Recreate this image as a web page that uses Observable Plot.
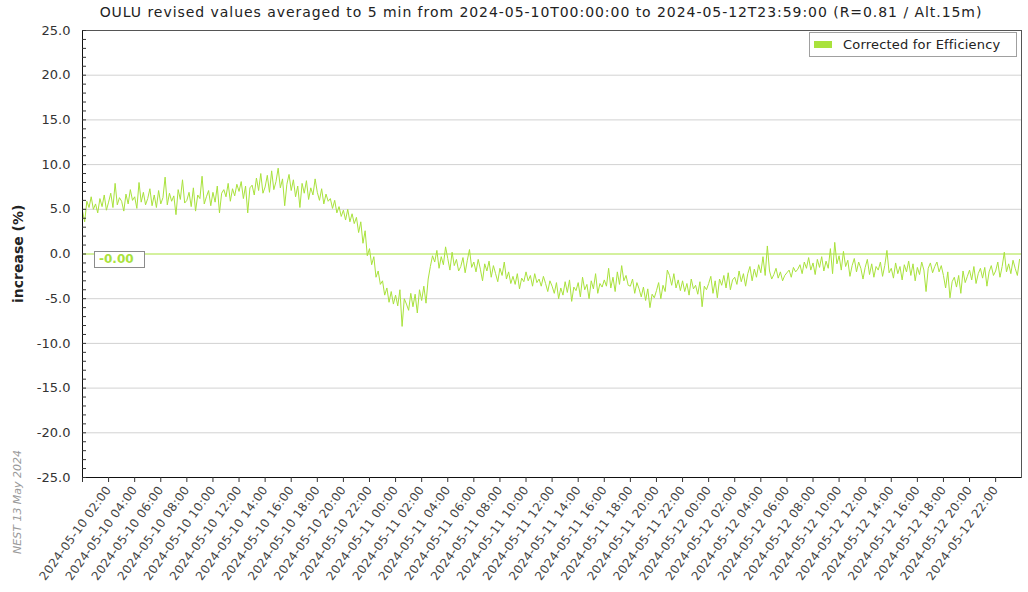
<!DOCTYPE html>
<html>
<head>
<meta charset="utf-8">
<script src="https://cdn.jsdelivr.net/npm/d3@7"></script>
<script src="https://cdn.jsdelivr.net/npm/@observablehq/plot@0.6"></script>
<style>
  body { margin: 0; background: #fff; font-family: "DejaVu Sans", sans-serif; }
  #wrap { position: relative; width: 1028px; height: 592px; overflow: hidden; }
  #title { position: absolute; left: 0; top: 4px; width: 1082px; text-align: center; font-size: 14px; letter-spacing: 0.95px; color: #222; white-space: nowrap; }
  #legend { position: absolute; left: 809px; top: 32px; width: 206px; height: 23px; border: 1px solid #a0a0a0; background: #fff; font-size: 13px; letter-spacing: 0.2px; color: #222; }
  #legend .sw { position: absolute; left: 4px; top: 8px; width: 18px; height: 7px; }
  #legend .lt { position: absolute; left: 33px; top: 4px; white-space: nowrap; }
  #ylab { position: absolute; font-size: 14px; font-weight: bold; color: #222; transform: rotate(-90deg); transform-origin: left top; white-space: nowrap; }
  #nest { position: absolute; font-size: 11px; font-style: italic; color: #999; transform: rotate(-90deg); transform-origin: left top; white-space: nowrap; }
  #zbox { position: absolute; border: 1px solid #8c8c8c; background: #fff; font-size: 12px; font-weight: bold; padding: 0 10px 0 4px; height: 15px; line-height: 15px; }
  svg g[aria-label="x-axis tick label"] text { letter-spacing: 0.3px; }
</style>
</head>
<body>
<div id="wrap">
  <div id="title"></div>
  <div id="legend"><span class="sw"></span><span class="lt"></span></div>
  <div id="ylab"></div>
  <div id="nest"></div>
  <div id="zbox"></div>
</div>
<script>
// ---------- data (10-minute samples) ----------
const titleText = "OULU revised values averaged to 5 min from 2024-05-10T00:00:00 to 2024-05-12T23:59:00 (R=0.81 / Alt.15m)";
const seriesName = "Corrected for Efficiency";
const yAxisLabel = "increase (%)";
const footNote = "NEST  13 May 2024";
const meanLabel = "-0.00";
const startTime = "2024-05-10T00:00:00Z";
const endTime = "2024-05-12T23:59:00Z";
const stepMinutes = 10;

const may10 = [
  4.8, 3.6, 5.9, 5.2, 6.4, 5.0,
  5.6, 4.6, 6.2, 5.3, 6.6, 4.9,
  5.8, 6.8, 5.2, 7.9, 5.5, 6.3,
  5.9, 4.8, 6.7, 5.6, 7.2, 6.0,
  6.4, 5.1, 8.0, 5.8, 6.9, 5.5,
  6.2, 7.3, 5.4, 6.6, 5.2, 7.1,
  5.6, 6.3, 8.6, 5.5, 6.8, 5.9,
  6.5, 4.4, 7.2, 6.1, 8.3, 5.7,
  6.0, 6.9, 5.3, 7.4, 4.8, 6.6,
  6.2, 8.7, 5.6, 6.4, 7.1, 5.4,
  6.9, 5.8, 7.6, 4.6, 6.8, 7.2,
  6.4, 7.9, 5.9, 7.3, 6.5, 7.8,
  7.0, 8.1, 6.2, 7.6, 4.6, 7.4,
  7.7, 6.6, 8.5, 7.1, 9.0, 6.8,
  7.5, 8.8, 6.9, 9.3, 7.2, 8.1,
  9.6, 7.4, 8.4, 5.4, 7.8, 8.9,
  7.1, 8.3, 6.4, 7.6, 5.2, 7.9,
  6.8, 8.2, 6.1, 7.4, 6.6, 8.4,
  6.9, 6.0, 7.3, 5.6, 6.7, 5.9,
  6.2, 5.1, 6.0, 4.6, 5.3, 4.2,
  4.9, 3.8, 5.0, 3.6, 4.5, 3.4,
  4.1, 2.4, 3.6, 1.2, 2.6, -0.2,
  0.6, -1.2, -0.3, -2.6, -1.9, -3.4,
  -3.0, -4.6, -3.8, -5.4, -4.2, -5.6
];
const may11 = [
  -4.6, -5.8, -4.0, -8.1, -5.0, -5.6,
  -6.3, -4.4, -5.9, -4.5, -6.6, -4.0,
  -5.2, -3.6, -5.5, -2.8, -1.4, -0.2,
  -0.9, 0.4, -1.6, -0.3, -1.2, 0.8,
  -0.5, -1.8, 0.2, -1.3, -0.6, -1.9,
  -1.4, -0.4, -2.1, -0.7, 0.5, -1.5,
  -0.9, -2.0, -0.6, -1.7, -3.0, -1.1,
  -1.9, -0.8, -2.6, -1.3, -2.2, -3.1,
  -1.6, -2.4, -0.9, -2.8, -2.0, -3.3,
  -2.5, -3.4, -2.2, -3.9, -2.7, -3.1,
  -2.0, -3.0, -2.4, -3.6, -2.2, -3.2,
  -2.8, -3.6, -2.5, -3.3, -4.2, -3.0,
  -3.6, -4.4, -3.2, -5.0, -3.8, -4.6,
  -3.1, -4.3, -2.9, -5.3, -3.7, -4.1,
  -3.2, -4.8, -2.6, -4.0, -3.4, -5.0,
  -3.0, -3.9, -2.2, -4.4, -3.3, -3.7,
  -2.9, -3.6, -1.6, -3.8, -2.6, -4.2,
  -2.0, -3.4, -1.3, -3.0, -2.4, -3.5,
  -3.6, -2.8, -4.4, -3.2, -3.9, -4.8,
  -3.7, -5.2, -3.9, -6.0, -4.5, -4.9,
  -4.1, -3.2, -5.0, -3.5, -4.2, -1.8,
  -2.4, -3.5, -2.2, -3.8, -2.9, -4.1,
  -3.0, -4.2, -3.3, -4.6, -2.8, -3.9,
  -3.5, -4.5, -3.1, -5.9, -3.6, -4.0
];
const may12 = [
  -3.3, -2.5, -4.4, -3.0, -4.9, -2.8,
  -3.5, -2.4, -3.8, -2.1, -4.0, -2.9,
  -2.6, -3.4, -1.9, -3.1, -2.2, -3.6,
  -2.2, -1.4, -3.0, -1.7, -2.6, -1.2,
  -2.1, -0.3, -2.4, 0.9, -1.9, -2.8,
  -2.3, -1.6, -2.7, -2.0, -3.0, -2.4,
  -2.1, -1.8, -2.6, -1.5, -2.0, -1.7,
  -1.2, -2.2, -0.9, -1.6, -0.4, -1.8,
  -1.0, -2.3, -0.6, -1.5, -0.3, -1.9,
  -0.8, -1.6, 0.6, -2.2, 1.3, -1.1,
  -0.2, -1.8, 0.3, -1.4, -0.7, -2.5,
  -1.3, -0.5, -2.0, -0.9, -1.6, -2.8,
  -1.5, -0.6, -2.3, -1.1, -2.6, -1.4,
  -1.8, -0.9, -2.5, -1.3, 0.4, -2.1,
  -1.6, -2.7, -1.0, -2.2, -1.4, -2.9,
  -1.2, -2.0, -0.8, -2.4, -1.1, -3.0,
  -1.5, -2.3, -0.9, -1.8, -4.2, -1.6,
  -1.0, -2.1, -1.4, -0.9, -2.0, -1.3,
  -2.4, -3.8, -2.0, -4.9, -3.1, -2.6,
  -3.7, -2.4, -4.4, -1.9, -3.2, -2.5,
  -1.8, -2.9, -1.4, -3.3, -2.2, -1.6,
  -2.7, -1.5, -3.6, -2.0, -1.3, -2.4,
  -1.9, -0.9, -2.6, -1.4, 0.2, -2.0,
  -1.1, -2.2, -0.7, -1.6, -2.4, -0.6
];

const yMajorTicks = [-25, -20, -15, -10, -5, 0, 5, 10, 15, 20, 25];
const yGridLines = [-20, -15, -10, -5, 5, 10, 15, 20];
const xTickStrings = [
  "2024-05-10T00:00Z","2024-05-10T02:00Z","2024-05-10T04:00Z","2024-05-10T06:00Z","2024-05-10T08:00Z","2024-05-10T10:00Z",
  "2024-05-10T12:00Z","2024-05-10T14:00Z","2024-05-10T16:00Z","2024-05-10T18:00Z","2024-05-10T20:00Z","2024-05-10T22:00Z",
  "2024-05-11T00:00Z","2024-05-11T02:00Z","2024-05-11T04:00Z","2024-05-11T06:00Z","2024-05-11T08:00Z","2024-05-11T10:00Z",
  "2024-05-11T12:00Z","2024-05-11T14:00Z","2024-05-11T16:00Z","2024-05-11T18:00Z","2024-05-11T20:00Z","2024-05-11T22:00Z",
  "2024-05-12T00:00Z","2024-05-12T02:00Z","2024-05-12T04:00Z","2024-05-12T06:00Z","2024-05-12T08:00Z","2024-05-12T10:00Z",
  "2024-05-12T12:00Z","2024-05-12T14:00Z","2024-05-12T16:00Z","2024-05-12T18:00Z","2024-05-12T20:00Z","2024-05-12T22:00Z"
];

// ---------- build ----------
const GREEN = "#a9e23c";
const values = may10.concat(may11, may12);
const t0 = new Date(startTime).getTime();
const data = values.map((v, i) => ({ t: new Date(t0 + i * stepMinutes * 60000), v }));
const xTicks = xTickStrings.map(s => new Date(s));
const xLabelTicks = xTicks.slice(1);
const yMinorTicks = d3.range(-25, 26, 1);
const fmtX = d3.utcFormat("%Y-%m-%d %H:%M");

const chart = Plot.plot({
  width: 1028,
  height: 592,
  marginLeft: 82,
  marginRight: 7,
  marginTop: 30,
  marginBottom: 115,
  style: { fontFamily: "DejaVu Sans, sans-serif", background: "transparent", overflow: "visible" },
  x: { type: "utc", domain: [new Date(startTime), new Date(endTime)] },
  y: { domain: [-25, 25] },
  marks: [
    Plot.ruleY(yGridLines, { stroke: "#d2d2d2", strokeWidth: 1 }),
    Plot.ruleY([0], { stroke: GREEN, strokeWidth: 1 }),
    Plot.line(data, { x: "t", y: "v", stroke: GREEN, strokeWidth: 1 }),
    Plot.frame({ stroke: "#555" }),
    Plot.ruleX([new Date(startTime)], { stroke: "#111" }),
    Plot.ruleY([-25], { stroke: "#111" }),
    Plot.axisY(yMinorTicks, { tickSize: 4, dx: 4, tickFormat: () => "", label: null, color: "#333" }),
    Plot.axisY(yMajorTicks, { tickSize: 0, tickPadding: 12, tickFormat: d => d.toFixed(1), fontSize: 13, color: "#333", label: null }),
    Plot.axisX(xTicks, { tickSize: 5, tickFormat: () => "", label: null, color: "#333" }),
    Plot.axisX(xLabelTicks, { tickSize: 0, tickPadding: 10, tickRotate: -54, tickFormat: fmtX, fontSize: 12, color: "#444", label: null })
  ]
});

const wrap = document.getElementById("wrap");
wrap.insertBefore(chart, wrap.firstChild);
chart.style.position = "absolute";
chart.style.left = "0px";
chart.style.top = "0px";

document.getElementById("title").textContent = titleText;
document.querySelector("#legend .sw").style.background = GREEN;
document.querySelector("#legend .lt").textContent = seriesName;

const yScale = chart.scale("y");
const y0 = yScale.apply(0);

const ylab = document.getElementById("ylab");
ylab.textContent = yAxisLabel;
const ylw = ylab.offsetWidth, ylh = ylab.offsetHeight;
ylab.style.left = (18 - ylh / 2) + "px";
ylab.style.top = (y0 + ylw / 2) + "px";

const nest = document.getElementById("nest");
nest.textContent = footNote;
const nh = nest.offsetHeight;
nest.style.left = (17 - nh / 2) + "px";
nest.style.top = "554px";

const zbox = document.getElementById("zbox");
zbox.textContent = meanLabel;
zbox.style.color = GREEN;
zbox.style.left = (82 + 12) + "px";
zbox.style.top = (y0 - 3) + "px";
</script>
</body>
</html>
